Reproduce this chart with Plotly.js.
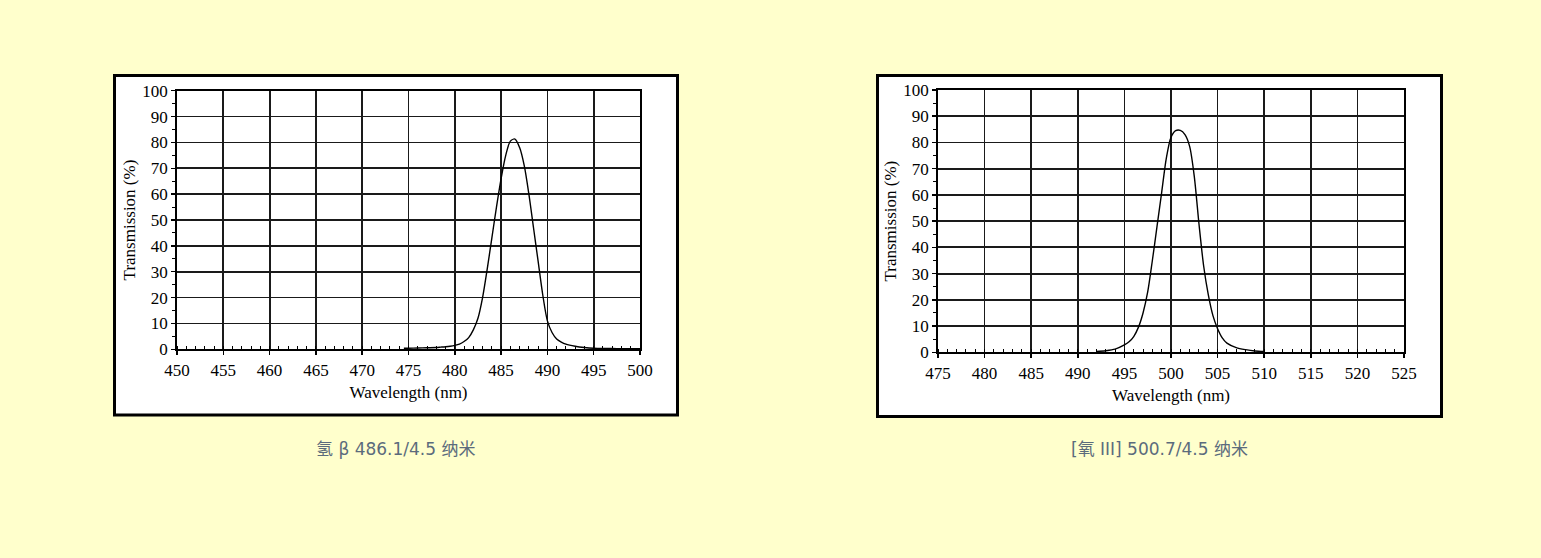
<!DOCTYPE html>
<html>
<head>
<meta charset="utf-8">
<script src="https://cdn.plot.ly/plotly-3.0.1.min.js"></script>
<style>
  html, body { margin: 0; padding: 0; background: #FFFFCC; }
  #chart { width: 1541px; height: 558px; }
</style>
</head>
<body>
<div id="chart"></div>
<script>
// ---- data ----
const hbWavelength = [474.5, 475, 476, 477, 478, 478.5, 479, 479.5, 480, 480.5, 481, 481.5, 482, 482.5, 483, 483.5, 484, 484.5, 485, 485.5, 486, 486.5, 487, 487.5, 488, 488.5, 489, 489.5, 490, 490.5, 491, 491.5, 492, 493, 494, 495, 496, 497, 498, 499, 500];
const hbTransmission = [0.4, 0.4, 0.5, 0.6, 0.7, 0.85, 1.0, 1.2, 1.5, 2.0, 3.0, 4.5, 7.5, 12, 20, 31, 43, 55, 66, 75, 80.5, 81.3, 78, 71, 60, 47, 34, 21, 11, 6.5, 4, 2.8, 2, 1.2, 0.7, 0.4, 0.3, 0.3, 0.25, 0.2, 0.2];

const o3Wavelength = [492, 493, 494, 495, 495.5, 496, 496.5, 497, 497.5, 498, 498.5, 499, 499.5, 500, 500.5, 501, 501.5, 502, 502.5, 503, 503.5, 504, 504.5, 505, 505.5, 506, 507, 508, 509, 510];
const o3Transmission = [0.3, 0.6, 1.2, 2.8, 4, 6, 9.5, 15, 23, 35, 48, 61, 74, 82, 84.5, 84.6, 83, 78.5, 67, 49, 33, 22, 14, 9, 5.5, 3.5, 1.8, 1.0, 0.5, 0.3];

const hbTicks = [450, 455, 460, 465, 470, 475, 480, 485, 490, 495, 500];
const o3Ticks = [475, 480, 485, 490, 495, 500, 505, 510, 515, 520, 525];
const yTicks = [0, 10, 20, 30, 40, 50, 60, 70, 80, 90, 100];

const captionHb = "氢 β 486.1/4.5 纳米";
const captionO3 = "[氧 III] 500.7/4.5 纳米";
const xTitle = "Wavelength (nm)";
const yTitle = "Transmission (%)";

// ---- layout helpers ----
const W = 1541, H = 558;
const px = v => v / W;
const py = v => 1 - v / H;

const serif = { family: "Liberation Serif, Times New Roman, serif", size: 17, color: "#000" };

function xAxis(ticks, domain) {
  return {
    domain: domain,
    range: [ticks[0], ticks[ticks.length - 1]],
    tickvals: ticks,
    ticktext: ticks.map(String),
    ticks: "outside", ticklen: 4, tickwidth: 1.5, tickcolor: "#000",
    minor: { dtick: 1, tick0: ticks[0], ticks: "inside", ticklen: 3, tickwidth: 1, tickcolor: "#000", showgrid: false },
    showgrid: true, gridcolor: "#1a1a1a", gridwidth: 1.8,
    showline: true, linecolor: "#000", linewidth: 1.8, mirror: true,
    zeroline: false,
    tickfont: serif,
    title: { text: xTitle, font: serif, standoff: 7 },
    automargin: false, fixedrange: true
  };
}
function yAxis(domain) {
  return {
    domain: domain,
    range: [0, 100],
    tickvals: yTicks,
    ticktext: yTicks.map(String),
    ticks: "outside", ticklen: 4, tickwidth: 1.5, tickcolor: "#000",
    minor: { dtick: 5, tick0: 0, ticks: "outside", ticklen: 3, tickwidth: 1, tickcolor: "#000", showgrid: false },
    showgrid: true, gridcolor: "#1a1a1a", gridwidth: 1.8,
    showline: true, linecolor: "#000", linewidth: 1.8, mirror: true,
    zeroline: false,
    tickfont: serif,
    title: { text: yTitle, font: serif, standoff: 2 },
    automargin: false, fixedrange: true
  };
}

const traces = [
  { x: hbWavelength, y: hbTransmission, xaxis: "x", yaxis: "y", type: "scatter", mode: "lines",
    line: { color: "#000", width: 1.4, shape: "spline", smoothing: 0.8 }, hoverinfo: "x+y", showlegend: false },
  { x: o3Wavelength, y: o3Transmission, xaxis: "x2", yaxis: "y2", type: "scatter", mode: "lines",
    line: { color: "#000", width: 1.4, shape: "spline", smoothing: 0.8 }, hoverinfo: "x+y", showlegend: false }
];

const layout = {
  width: W, height: H,
  margin: { l: 0, r: 0, t: 0, b: 0, pad: 0 },
  paper_bgcolor: "#FFFFCC",
  plot_bgcolor: "#FFFFFF",
  showlegend: false,
  xaxis: xAxis(hbTicks, [px(177), px(640)]),
  yaxis: Object.assign(yAxis([py(349.3), py(90.7)]), { anchor: "x" }),
  xaxis2: Object.assign(xAxis(o3Ticks, [px(938), px(1404)]), { anchor: "y2" }),
  yaxis2: Object.assign(yAxis([py(352.3), py(90)]), { anchor: "x2" }),
  shapes: [
    { type: "rect", xref: "paper", yref: "paper", layer: "below",
      x0: px(114.5), x1: px(677.5), y0: py(415), y1: py(75.5),
      fillcolor: "#FFFFFF", line: { color: "#000", width: 3 } },
    { type: "rect", xref: "paper", yref: "paper", layer: "below",
      x0: px(877.5), x1: px(1441.5), y0: py(416.5), y1: py(75.5),
      fillcolor: "#FFFFFF", line: { color: "#000", width: 3 } }
  ],
  annotations: [
    { text: captionHb, xref: "paper", yref: "paper", x: px(396), y: py(449), xanchor: "center", yanchor: "middle",
      showarrow: false, font: { family: "DejaVu Sans, Noto Sans CJK SC, sans-serif", size: 17, color: "#5b6b7c" } },
    { text: captionO3, xref: "paper", yref: "paper", x: px(1159), y: py(449), xanchor: "center", yanchor: "middle",
      showarrow: false, font: { family: "DejaVu Sans, Noto Sans CJK SC, sans-serif", size: 17, color: "#5b6b7c" } }
  ]
};

Plotly.newPlot("chart", traces, layout, { displayModeBar: false, staticPlot: true });
</script>
</body>
</html>
